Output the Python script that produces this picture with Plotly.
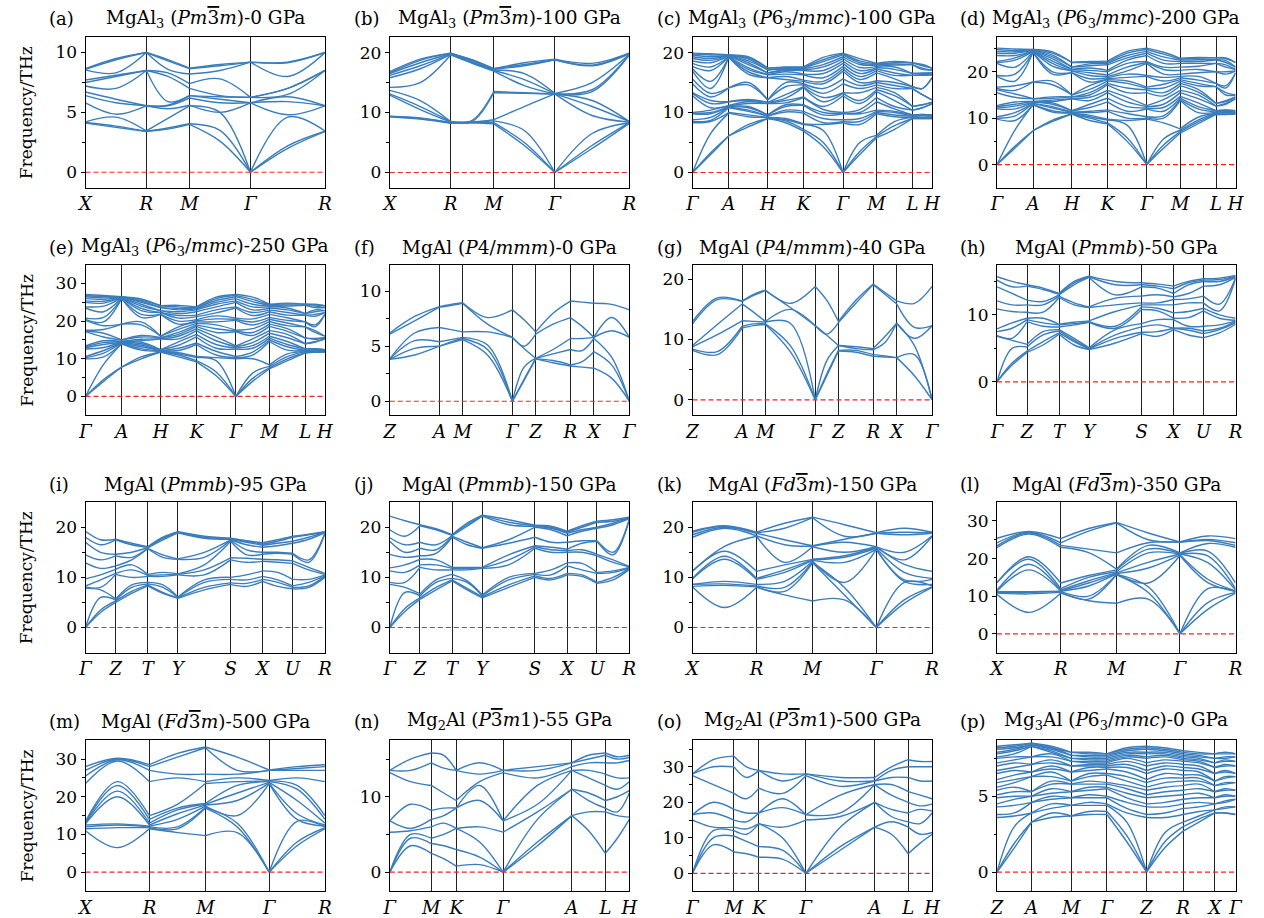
import plotly.graph_objects as go

W, H = 1264, 918
BLUE = '#3a7dbc'
FONT = 'DejaVu Serif'

# ---------------- k-paths (relative distances) ----------------
CUBIC_K = [0, 0.254, 0.434, 0.689, 1.0]
CUBIC_L = ['X', 'R', 'M', 'Γ', 'R']
HEX_K = [0, 0.151, 0.314, 0.463, 0.628, 0.768, 0.918, 1.0]
HEX_L = ['Γ', 'A', 'H', 'K', 'Γ', 'M', 'L', 'H']
TET_K = [0, 0.207, 0.304, 0.512, 0.609, 0.754, 0.852, 1.0]
TET_L = ['Z', 'A', 'M', 'Γ', 'Z', 'R', 'X', 'Γ']
ORT_K = [0, 0.126, 0.260, 0.386, 0.606, 0.740, 0.865, 1.0]
ORT_L = ['Γ', 'Z', 'T', 'Y', 'S', 'X', 'U', 'R']
FCC_K = [0, 0.267, 0.501, 0.767, 1.0]
FCC_L = ['X', 'R', 'M', 'Γ', 'R']
TRI_K = [0, 0.173, 0.277, 0.473, 0.760, 0.900, 1.0]
TRI_L = ['Γ', 'M', 'K', 'Γ', 'A', 'L', 'H']
P_K = [0, 0.145, 0.311, 0.461, 0.627, 0.780, 0.913, 1.0]
P_L = ['Z', 'A', 'M', 'Γ', 'Z', 'R', 'X', 'Γ']

# ---------------- frequencies (THz) at path nodes: point, mid, point, ... ----------------
A_R = [3.4, 3.42, 3.45, 5.55, 5.55, 5.55, 8.5, 8.5, 8.5, 10.0, 10.0, 10.0]
A_NODES = [
    [4.1, 4.15, 4.2, 5.8, 6.4, 6.7, 7.2, 7.5, 7.7, 8.55, 8.6, 8.65],
    [3.75, 3.85, 4.6, 4.85, 5.8, 6.1, 7.0, 8.0, 8.1, 8.3, 9.4, 9.5],
    A_R,
    [3.6, 3.7, 4.5, 5.3, 5.55, 5.6, 5.9, 8.0, 8.3, 8.6, 9.3, 9.4],
    [4.0, 4.05, 5.55, 5.6, 6.2, 6.4, 6.4, 7.0, 7.4, 8.2, 8.65, 8.7],
    [2.6, 3.5, 5.0, 5.0, 5.8, 6.1, 6.3, 6.4, 7.8, 8.5, 8.9, 9.0],
    [0, 0, 0, 5.8, 5.8, 5.8, 6.25, 6.25, 6.25, 9.2, 9.2, 9.2],
    [2.0, 2.2, 4.6, 4.8, 5.9, 6.3, 6.5, 7.0, 7.0, 8.0, 9.15, 9.2],
    A_R,
]

B_R = [8.2, 8.3, 8.3, 8.4, 8.5, 8.5, 19.6, 19.7, 19.7, 19.8, 19.9, 19.9]
B_NODES = [
    [9.3, 9.35, 9.4, 12.9, 13.1, 13.7, 14.2, 15.8, 16.2, 16.5, 16.6, 16.8],
    [8.9, 9.0, 9.1, 10.5, 11.0, 12.0, 15.0, 17.3, 17.8, 18.3, 18.7, 18.9],
    B_R,
    [8.3, 8.3, 8.4, 8.4, 8.5, 8.7, 18.2, 18.3, 18.4, 18.6, 18.7, 18.8],
    [8.1, 8.3, 8.6, 8.8, 13.3, 13.5, 16.9, 17.0, 17.1, 17.2, 17.3, 17.3],
    [4.5, 5.0, 7.0, 11.0, 13.2, 13.3, 14.5, 15.5, 16.5, 17.8, 18.0, 18.3],
    [0, 0, 0, 13.1, 13.1, 13.1, 13.1, 13.15, 13.2, 18.8, 18.8, 18.9],
    [4.0, 4.5, 6.5, 9.5, 11.0, 12.0, 13.5, 13.8, 15.0, 17.8, 17.9, 18.2],
    B_R,
]

C_G = [0, 0, 0, 8.3, 8.5, 8.8, 9.8, 9.9, 10.0, 12.8, 13.2, 13.3, 14.8, 15.6, 16.9, 17.3, 17.7, 18.2, 18.6, 19.0, 19.3, 19.6, 19.8, 19.9]
C_H = [9.0, 9.0, 9.2, 9.2, 9.4, 9.4, 9.6, 9.6, 11.5, 11.5, 11.7, 11.7, 12.1, 12.1, 15.8, 15.8, 16.3, 16.3, 16.6, 16.6, 17.1, 17.1, 17.4, 17.4]
C_NODES = [
    C_G,
    [3.0, 3.3, 6.5, 8.5, 8.7, 9.2, 9.8, 10.0, 10.4, 10.8, 11.5, 12.0, 12.6, 13.2, 14.0, 15.2, 17.0, 17.6, 18.3, 18.7, 19.0, 19.3, 19.6, 19.8],
    [6.1, 6.1, 9.9, 10.0, 10.8, 10.9, 11.0, 11.0, 11.1, 11.2, 11.8, 11.8, 14.1, 14.1, 19.2, 19.2, 19.3, 19.3, 19.4, 19.4, 19.5, 19.5, 19.6, 19.6],
    [7.6, 8.0, 9.3, 9.6, 10.2, 10.4, 10.8, 11.0, 11.5, 11.8, 12.0, 12.2, 14.6, 15.0, 16.4, 16.8, 17.2, 17.5, 18.0, 18.3, 18.6, 18.9, 19.1, 19.3],
    C_H,
    [8.3, 8.6, 8.8, 9.0, 10.1, 10.4, 11.0, 11.3, 11.6, 12.0, 12.4, 13.0, 14.3, 15.0, 15.5, 16.0, 16.4, 16.8, 17.0, 17.2, 17.3, 17.4, 17.5, 17.6],
    [6.9, 7.2, 8.0, 8.1, 9.9, 10.2, 11.2, 11.3, 12.5, 12.6, 14.2, 14.3, 14.6, 14.8, 15.2, 15.4, 16.3, 16.4, 17.0, 17.1, 17.3, 17.4, 17.5, 17.6],
    [4.3, 5.0, 7.0, 8.0, 8.3, 9.0, 9.6, 10.0, 10.5, 11.0, 11.8, 12.5, 13.2, 14.0, 14.8, 15.2, 15.8, 16.5, 17.0, 17.6, 18.0, 18.5, 18.8, 19.2],
    C_G,
    [3.0, 3.5, 5.0, 8.0, 8.5, 9.0, 9.8, 10.0, 10.5, 11.5, 12.0, 13.3, 14.0, 14.5, 15.0, 15.5, 16.0, 16.5, 17.0, 17.5, 18.0, 18.3, 18.6, 19.0],
    [5.8, 6.0, 6.2, 9.8, 10.0, 10.2, 10.4, 11.8, 12.5, 13.5, 13.8, 14.2, 14.6, 15.0, 15.3, 16.6, 17.0, 17.3, 17.5, 17.7, 17.9, 18.0, 18.1, 18.2],
    [7.2, 7.8, 8.5, 9.3, 9.6, 10.0, 10.2, 10.6, 11.0, 12.0, 12.8, 13.3, 14.0, 14.5, 15.0, 15.6, 16.2, 16.6, 17.2, 17.6, 17.9, 18.1, 18.3, 18.5],
    [9.0, 9.0, 9.2, 9.2, 9.4, 9.4, 9.6, 9.6, 10.4, 10.4, 11.0, 11.0, 14.0, 14.0, 14.3, 14.3, 16.2, 16.2, 16.5, 16.5, 18.0, 18.0, 18.3, 18.3],
    [9.0, 9.0, 9.2, 9.2, 9.5, 9.5, 9.7, 9.7, 10.8, 10.8, 11.3, 11.3, 13.0, 13.0, 14.0, 14.0, 16.2, 16.3, 16.5, 16.6, 17.2, 17.4, 17.8, 18.0],
    C_H,
]

D_G = [0, 0, 0, 9.8, 10.0, 10.3, 12.0, 12.2, 12.5, 12.7, 15.5, 16.1, 16.4, 16.7, 19.0, 19.2, 21.8, 22.0, 22.2, 23.5, 24.0, 24.4, 24.8, 25.1]
D_H = [10.9, 10.9, 11.1, 11.1, 11.3, 11.3, 11.6, 11.6, 14.2, 14.2, 14.6, 14.6, 15.0, 15.0, 19.8, 19.8, 20.2, 20.2, 20.5, 20.5, 21.0, 21.0, 22.0, 22.0]
D_NODES = [
    D_G,
    [3.6, 4.0, 7.5, 9.5, 10.5, 11.2, 12.0, 12.6, 13.0, 13.5, 14.5, 15.2, 16.0, 17.0, 18.0, 19.5, 21.0, 22.5, 23.0, 23.5, 24.0, 24.3, 24.6, 24.9],
    [7.3, 7.3, 12.9, 12.9, 13.2, 13.2, 13.4, 13.4, 13.6, 13.6, 14.2, 14.2, 17.8, 17.8, 24.2, 24.2, 24.4, 24.4, 24.5, 24.5, 24.6, 24.6, 24.8, 24.8],
    [9.3, 9.6, 11.3, 11.6, 12.2, 12.5, 13.0, 13.3, 13.6, 13.9, 14.3, 14.6, 17.2, 18.0, 19.5, 20.0, 21.2, 21.8, 22.3, 22.8, 23.2, 23.6, 24.0, 24.3],
    D_H,
    [9.5, 10.0, 10.3, 10.6, 11.2, 11.5, 12.3, 13.0, 13.8, 14.5, 15.0, 15.5, 16.2, 17.0, 17.8, 18.5, 19.2, 19.8, 20.3, 20.8, 21.3, 21.7, 22.0, 22.2],
    [8.8, 9.0, 9.6, 9.8, 11.5, 11.8, 13.5, 14.3, 15.5, 16.0, 17.2, 17.5, 18.0, 18.3, 18.5, 18.7, 19.0, 19.3, 20.0, 20.3, 21.5, 21.8, 22.0, 22.3],
    [5.0, 5.8, 8.5, 9.5, 10.0, 11.0, 11.5, 12.5, 13.5, 14.5, 15.5, 16.5, 17.5, 18.0, 18.8, 19.5, 20.2, 21.0, 21.8, 22.5, 23.0, 23.5, 24.0, 24.4],
    D_G,
    [3.5, 4.2, 5.5, 9.0, 10.0, 10.5, 11.5, 12.3, 13.0, 14.0, 14.8, 15.5, 16.5, 17.3, 18.0, 18.8, 19.5, 20.5, 21.0, 21.8, 22.5, 23.2, 23.8, 24.2],
    [6.8, 7.1, 7.4, 7.7, 13.8, 14.0, 14.3, 14.7, 15.5, 16.0, 17.0, 17.5, 18.0, 18.3, 18.7, 19.0, 19.5, 20.3, 21.0, 21.8, 22.2, 22.5, 22.7, 22.9],
    [8.8, 9.2, 9.6, 10.2, 11.2, 12.0, 12.5, 13.3, 14.2, 15.0, 15.6, 16.2, 17.0, 17.5, 18.2, 19.0, 19.8, 20.5, 21.2, 21.8, 22.2, 22.6, 22.9, 23.1],
    [10.8, 10.8, 11.0, 11.0, 11.3, 11.3, 11.6, 11.6, 12.6, 12.6, 13.2, 13.2, 16.8, 16.8, 17.5, 17.5, 20.0, 20.0, 21.8, 21.8, 22.6, 22.6, 23.0, 23.0],
    [10.8, 10.9, 11.1, 11.2, 11.4, 11.5, 11.7, 11.8, 13.0, 13.2, 13.6, 13.8, 15.0, 15.5, 16.5, 17.0, 19.5, 20.0, 21.0, 21.5, 22.0, 22.4, 22.8, 23.0],
    D_H,
]

E_G = [0, 0, 0, 10.0, 10.3, 10.6, 12.6, 12.9, 13.2, 13.4, 17.2, 17.4, 17.6, 20.2, 20.5, 20.8, 23.5, 23.8, 25.0, 25.4, 26.0, 26.5, 26.8, 27.1]
E_H = [11.8, 11.8, 12.0, 12.0, 12.2, 12.2, 12.4, 12.4, 15.3, 15.3, 15.6, 15.6, 16.0, 16.0, 21.8, 21.8, 22.3, 22.3, 22.8, 22.8, 23.6, 23.6, 24.1, 24.1]
E_NODES = [
    E_G,
    [4.0, 4.5, 8.5, 10.5, 11.5, 12.2, 13.0, 13.8, 14.3, 14.8, 15.8, 16.8, 17.8, 18.8, 19.8, 21.0, 22.5, 24.0, 24.8, 25.3, 25.8, 26.2, 26.5, 26.8],
    [7.8, 7.8, 14.0, 14.0, 14.2, 14.2, 14.4, 14.4, 14.6, 14.6, 15.0, 15.0, 19.2, 19.2, 26.0, 26.0, 26.2, 26.2, 26.3, 26.3, 26.4, 26.4, 26.5, 26.5],
    [10.0, 10.5, 12.3, 12.7, 13.2, 13.6, 14.0, 14.4, 14.8, 15.2, 15.8, 16.2, 19.0, 19.8, 21.0, 21.8, 22.8, 23.4, 24.0, 24.5, 25.0, 25.3, 25.6, 25.9],
    E_H,
    [10.5, 11.0, 11.3, 11.6, 12.2, 12.8, 13.6, 14.5, 15.3, 16.0, 16.5, 17.0, 17.8, 18.5, 19.2, 20.0, 20.8, 21.5, 22.0, 22.5, 23.0, 23.4, 23.8, 24.2],
    [9.2, 9.5, 10.3, 10.6, 13.8, 14.2, 15.8, 16.5, 17.5, 18.0, 18.6, 19.0, 19.4, 19.8, 20.1, 20.4, 21.2, 21.6, 22.5, 23.0, 23.3, 23.5, 23.6, 23.8],
    [5.5, 6.5, 9.5, 10.3, 11.0, 12.0, 12.8, 13.8, 14.8, 15.8, 17.0, 18.0, 19.0, 19.8, 20.6, 21.4, 22.2, 23.0, 23.8, 24.5, 25.0, 25.5, 26.0, 26.4],
    E_G,
    [4.0, 4.8, 6.2, 10.0, 11.0, 11.8, 12.8, 13.5, 14.3, 15.3, 16.2, 17.0, 18.0, 19.0, 19.8, 20.6, 21.5, 22.3, 23.0, 23.8, 24.5, 25.2, 25.8, 26.4],
    [7.3, 7.6, 8.0, 8.4, 14.6, 15.0, 15.5, 16.0, 16.8, 17.5, 18.6, 19.2, 19.9, 20.5, 21.0, 21.8, 22.5, 23.0, 23.5, 23.8, 24.0, 24.2, 24.3, 24.5],
    [9.5, 10.0, 10.6, 11.3, 12.3, 13.2, 13.8, 14.6, 15.6, 16.5, 17.3, 18.0, 18.8, 19.5, 20.2, 20.9, 21.6, 22.3, 23.0, 23.5, 24.0, 24.3, 24.6, 24.8],
    [11.6, 11.6, 11.9, 11.9, 12.2, 12.2, 12.6, 12.6, 14.0, 14.0, 15.5, 15.5, 18.5, 18.5, 19.8, 19.8, 21.6, 21.6, 22.0, 22.0, 24.2, 24.2, 24.5, 24.5],
    [11.7, 11.8, 12.0, 12.1, 12.3, 12.4, 12.6, 12.7, 14.4, 14.6, 15.2, 15.4, 17.0, 17.5, 18.5, 19.0, 21.3, 21.8, 22.5, 23.0, 23.6, 24.0, 24.3, 24.5],
    E_H,
]

F_G = [0, 0, 0, 5.8, 5.8, 8.3]
F_NODES = [
    [3.8, 3.8, 3.85, 3.85, 6.1, 6.2],
    [4.2, 4.8, 5.5, 6.2, 7.3, 7.7],
    [5.0, 5.0, 5.4, 6.7, 8.55, 8.6],
    [5.3, 5.4, 5.6, 6.5, 8.7, 8.8],
    [5.6, 5.7, 5.8, 6.3, 8.9, 8.95],
    [4.2, 4.7, 5.1, 6.3, 7.0, 7.6],
    F_G,
    [1.9, 2.0, 3.1, 4.8, 5.0, 7.4],
    [3.85, 3.85, 3.9, 3.9, 6.1, 6.3],
    [3.5, 3.7, 4.3, 4.7, 7.0, 8.0],
    [3.2, 3.3, 4.7, 5.7, 7.6, 9.1],
    [3.1, 3.6, 4.6, 5.7, 6.8, 9.0],
    [3.0, 4.5, 5.7, 5.8, 5.8, 8.9],
    [2.1, 3.3, 4.0, 6.4, 7.6, 8.8],
    F_G,
]

G_G = [0, 0, 0, 12.3, 12.3, 18.8]
G_NODES = [
    [8.2, 8.4, 8.8, 9.0, 12.6, 13.0],
    [7.5, 8.0, 10.8, 12.5, 16.6, 16.9],
    [11.9, 12.2, 13.1, 15.9, 16.3, 16.4],
    [12.3, 12.6, 13.0, 14.5, 17.3, 17.5],
    [12.5, 12.6, 12.9, 13.0, 18.1, 18.2],
    [8.0, 9.0, 12.7, 15.0, 15.3, 16.0],
    G_G,
    [4.0, 4.3, 6.5, 10.7, 10.9, 16.5],
    [8.1, 8.2, 9.0, 9.0, 12.8, 13.0],
    [7.9, 8.2, 8.5, 8.8, 16.0, 16.5],
    [7.2, 7.5, 8.3, 8.5, 19.1, 19.2],
    [7.1, 7.3, 9.5, 10.5, 17.5, 17.8],
    [7.0, 7.0, 12.7, 12.7, 15.9, 16.4],
    [4.0, 7.5, 9.0, 10.2, 12.0, 16.0],
    G_G,
]

H_NODES = [
    [0, 0, 0, 6.8, 6.9, 7.5, 7.9, 10.9, 12.1, 14.2, 15.2, 15.7],
    [2.5, 2.8, 5.0, 6.2, 6.5, 8.0, 8.8, 10.5, 11.5, 13.2, 14.2, 15.0],
    [4.4, 4.6, 5.2, 5.6, 9.0, 9.3, 9.5, 10.4, 11.5, 12.2, 14.3, 14.5],
    [5.5, 6.0, 7.0, 7.5, 8.3, 8.8, 9.5, 10.4, 11.5, 12.0, 13.8, 14.0],
    [7.1, 7.3, 7.6, 7.8, 8.2, 8.5, 8.6, 12.6, 12.8, 13.0, 13.1, 13.2],
    [5.5, 6.0, 6.2, 6.5, 8.5, 8.7, 8.9, 11.5, 11.8, 14.5, 14.8, 15.0],
    [4.8, 4.9, 5.0, 5.1, 8.9, 9.0, 9.1, 11.1, 11.2, 15.6, 15.7, 15.8],
    [5.8, 6.5, 7.0, 7.8, 8.0, 8.3, 10.5, 11.5, 12.5, 13.0, 14.5, 15.0],
    [7.2, 7.4, 8.2, 8.7, 10.8, 11.2, 11.5, 11.8, 12.8, 14.2, 14.5, 14.8],
    [6.8, 7.5, 8.5, 9.3, 10.6, 11.0, 11.5, 11.8, 13.0, 14.0, 14.3, 14.6],
    [7.8, 8.0, 8.0, 9.3, 9.5, 10.3, 11.5, 12.3, 12.7, 13.2, 13.9, 14.3],
    [7.0, 7.7, 8.0, 8.3, 9.6, 10.5, 11.8, 12.4, 13.2, 14.5, 14.8, 15.0],
    [6.6, 7.2, 7.6, 8.3, 10.6, 11.0, 11.8, 12.8, 14.3, 15.0, 15.2, 15.4],
    [7.3, 7.8, 8.0, 8.5, 9.5, 10.0, 10.6, 11.6, 14.5, 15.0, 15.3, 15.5],
    [8.6, 8.8, 9.0, 9.1, 9.2, 9.5, 15.4, 15.5, 15.6, 15.7, 15.8, 15.9],
]

I_NODES = [
    [0, 0, 0, 7.8, 8.1, 8.3, 9.7, 12.9, 14.5, 17.0, 18.0, 19.2],
    [3.0, 3.5, 6.0, 7.5, 8.0, 9.5, 10.5, 11.8, 13.5, 15.0, 16.5, 17.5],
    [5.0, 5.3, 5.5, 5.7, 10.6, 10.8, 11.6, 12.3, 14.3, 14.6, 17.5, 17.6],
    [6.8, 7.2, 8.0, 8.5, 10.0, 11.5, 12.5, 13.5, 14.0, 15.0, 16.5, 16.8],
    [8.3, 8.5, 8.7, 9.0, 10.2, 10.4, 10.6, 15.7, 15.8, 15.9, 16.0, 16.1],
    [6.8, 7.0, 8.0, 8.5, 10.2, 10.5, 11.0, 14.0, 14.5, 17.5, 17.8, 18.0],
    [5.8, 5.9, 6.0, 6.1, 10.5, 10.6, 10.7, 13.6, 13.7, 18.9, 19.0, 19.1],
    [7.5, 8.0, 9.0, 9.5, 10.5, 11.5, 12.5, 14.0, 15.0, 17.8, 18.0, 18.2],
    [8.6, 8.9, 9.6, 10.0, 13.5, 13.9, 17.2, 17.4, 17.5, 17.6, 17.7, 17.8],
    [8.2, 8.8, 9.5, 10.5, 13.0, 13.8, 14.5, 15.5, 16.5, 17.0, 17.2, 17.3],
    [9.2, 9.6, 10.2, 11.3, 13.2, 13.6, 14.6, 15.0, 16.0, 16.4, 16.6, 16.9],
    [8.2, 9.0, 9.5, 11.0, 13.0, 13.5, 14.8, 15.0, 16.3, 16.8, 17.2, 17.5],
    [7.7, 8.0, 8.3, 9.6, 12.8, 13.3, 14.6, 14.8, 16.8, 17.2, 18.0, 18.2],
    [8.0, 8.3, 9.0, 9.6, 11.5, 12.0, 13.0, 13.5, 17.6, 18.0, 18.5, 18.6],
    [10.0, 10.2, 10.3, 10.5, 10.6, 10.8, 18.7, 18.8, 18.9, 19.0, 19.0, 19.1],
]

J_NODES = [
    [0, 0, 0, 8.6, 9.0, 11.3, 11.9, 14.6, 17.2, 17.9, 19.5, 22.2],
    [3.2, 3.8, 7.0, 8.0, 9.0, 11.0, 12.5, 14.0, 15.0, 16.5, 18.2, 21.3],
    [5.6, 5.9, 6.3, 6.7, 12.0, 12.5, 13.6, 14.3, 15.8, 17.0, 20.3, 20.5],
    [7.5, 8.0, 9.0, 9.5, 11.5, 12.5, 13.5, 14.8, 15.5, 16.5, 19.5, 19.7],
    [9.3, 9.5, 9.8, 10.6, 11.5, 11.8, 12.0, 18.0, 18.2, 18.3, 18.4, 18.5],
    [7.5, 7.8, 9.0, 9.3, 11.5, 11.8, 12.0, 16.5, 17.0, 20.2, 20.5, 20.8],
    [5.9, 6.1, 6.3, 6.5, 11.8, 11.9, 12.0, 15.8, 15.9, 22.2, 22.3, 22.4],
    [8.0, 8.5, 9.5, 10.0, 12.5, 13.5, 14.5, 16.8, 17.5, 20.5, 21.0, 21.5],
    [10.0, 10.3, 10.6, 10.8, 15.8, 16.1, 16.3, 18.0, 20.0, 20.2, 20.3, 20.4],
    [9.5, 9.8, 10.5, 11.5, 15.0, 15.5, 16.0, 17.0, 19.5, 19.8, 20.0, 20.2],
    [10.5, 10.8, 12.3, 12.9, 15.0, 15.3, 15.6, 17.0, 18.3, 18.8, 19.0, 19.2],
    [10.2, 10.5, 11.5, 12.8, 15.0, 15.5, 16.8, 17.3, 19.2, 19.5, 20.0, 20.3],
    [8.8, 9.0, 10.8, 11.0, 14.3, 14.6, 17.2, 17.3, 19.8, 20.0, 21.0, 21.2],
    [9.5, 10.0, 11.0, 11.3, 13.0, 13.5, 14.5, 15.0, 20.5, 20.8, 21.2, 21.5],
    [11.6, 11.8, 11.9, 12.0, 12.1, 12.2, 21.5, 21.6, 21.7, 21.8, 21.9, 22.0],
]

K_R = [8.0, 8.1, 8.3, 8.6, 9.6, 9.8, 11.2, 18.2, 18.3, 18.8, 18.9, 19.0]
K_NODES = [
    [8.1, 8.2, 8.6, 8.6, 9.7, 9.8, 11.2, 11.3, 18.0, 18.5, 19.0, 19.2],
    [4.0, 8.4, 8.7, 9.2, 13.6, 14.2, 15.2, 16.2, 19.8, 20.0, 20.2, 20.3],
    K_R,
    [6.5, 7.2, 8.0, 9.2, 11.0, 11.5, 12.5, 13.0, 16.5, 17.5, 19.8, 20.8],
    [5.3, 12.9, 13.0, 13.2, 13.4, 13.5, 13.6, 16.1, 16.2, 16.3, 21.9, 22.0],
    [5.5, 6.5, 8.0, 9.0, 13.0, 14.0, 14.3, 15.0, 17.0, 17.6, 18.2, 20.5],
    [0, 0, 0, 15.6, 15.6, 15.8, 16.0, 16.1, 16.1, 18.8, 18.8, 18.9],
    [4.8, 5.5, 9.0, 9.2, 9.5, 11.0, 12.6, 13.5, 15.0, 18.5, 19.0, 19.8],
    K_R,
]

L_R = [10.8, 11.0, 11.2, 11.3, 11.4, 11.6, 12.0, 13.5, 23.0, 23.5, 24.2, 25.3]
L_NODES = [
    [10.5, 10.8, 11.0, 11.2, 11.4, 11.6, 13.6, 13.6, 22.9, 23.4, 24.2, 25.4],
    [5.7, 10.6, 11.0, 11.2, 17.0, 18.5, 19.8, 20.5, 26.5, 26.8, 27.0, 27.2],
    L_R,
    [8.8, 9.2, 10.0, 12.7, 13.5, 14.1, 15.0, 15.5, 21.6, 22.5, 27.3, 28.0],
    [8.1, 15.7, 15.8, 15.9, 16.0, 16.2, 16.5, 17.0, 17.2, 21.5, 29.5, 29.6],
    [9.2, 11.0, 12.5, 13.5, 17.5, 19.0, 21.5, 22.5, 23.5, 24.2, 25.0, 26.8],
    [0, 0, 0, 20.8, 21.0, 21.2, 21.2, 21.4, 21.5, 24.3, 24.4, 24.4],
    [6.5, 8.3, 12.0, 13.6, 14.5, 18.9, 20.7, 22.0, 24.0, 24.8, 25.1, 26.0],
    L_R,
]

M_R = [11.5, 11.8, 12.0, 12.2, 12.5, 13.0, 14.0, 15.0, 24.0, 27.0, 28.0, 28.5]
M_NODES = [
    [11.0, 11.5, 12.0, 12.5, 12.8, 13.0, 13.2, 13.5, 23.5, 25.5, 27.0, 28.0],
    [6.5, 11.8, 12.5, 12.8, 20.0, 21.5, 23.0, 24.0, 29.5, 29.8, 30.0, 30.2],
    M_R,
    [10.5, 11.5, 12.0, 14.0, 15.5, 16.5, 17.0, 18.0, 25.0, 26.0, 30.5, 31.5],
    [9.7, 17.0, 17.2, 17.5, 17.8, 18.0, 18.2, 23.5, 24.0, 26.0, 33.0, 33.2],
    [10.5, 12.0, 13.0, 15.0, 19.0, 21.0, 23.0, 24.0, 25.0, 26.0, 27.0, 30.5],
    [0, 0, 0, 23.5, 23.6, 23.8, 24.0, 24.2, 24.3, 27.0, 27.0, 27.1],
    [7.0, 8.0, 13.5, 14.0, 15.5, 19.0, 22.0, 23.0, 25.0, 27.0, 27.5, 28.0],
    M_R,
]

N_G = [0, 0, 0, 5.3, 6.8, 6.8, 13.2, 13.5, 13.5]
N_NODES = [
    N_G,
    [3.5, 4.5, 5.0, 5.5, 5.8, 9.0, 12.0, 13.5, 15.0],
    [2.5, 3.8, 4.5, 6.0, 7.0, 8.2, 11.5, 14.5, 15.8],
    [1.8, 3.5, 5.0, 6.5, 7.5, 8.5, 10.5, 13.8, 15.5],
    [0.8, 3.0, 5.8, 5.8, 8.5, 8.5, 9.5, 13.5, 13.5],
    [1.0, 2.0, 4.0, 6.0, 9.5, 11.5, 12.0, 13.0, 14.5],
    N_G,
    [3.5, 4.0, 7.0, 8.0, 9.0, 11.5, 12.5, 13.5, 14.0],
    [7.5, 7.5, 11.0, 11.0, 13.5, 13.5, 14.0, 14.5, 14.5],
    [5.5, 8.0, 9.5, 10.5, 12.5, 13.5, 14.5, 15.0, 15.5],
    [2.5, 8.0, 8.5, 9.5, 11.5, 13.0, 14.5, 15.5, 15.8],
    [4.5, 7.5, 8.0, 10.0, 11.0, 12.5, 14.5, 15.0, 15.3],
    [7.0, 7.3, 10.5, 10.8, 12.0, 12.5, 14.8, 15.2, 15.5],
]

O_G = [0, 0, 0, 15.0, 16.5, 16.5, 27.5, 28.0, 28.0]
O_NODES = [
    O_G,
    [8.0, 10.0, 12.0, 13.0, 17.0, 20.0, 25.0, 30.0, 32.0],
    [6.0, 10.5, 12.0, 13.0, 15.0, 18.0, 22.5, 30.0, 33.0],
    [5.5, 9.0, 11.0, 12.5, 14.5, 17.0, 21.0, 27.0, 30.0],
    [4.5, 7.5, 14.0, 14.0, 17.0, 17.0, 24.0, 29.0, 29.0],
    [4.0, 6.5, 10.0, 13.0, 18.5, 21.0, 22.5, 26.0, 28.0],
    O_G,
    [6.5, 7.5, 13.0, 16.0, 17.0, 22.0, 24.5, 26.0, 27.0],
    [13.0, 13.0, 20.0, 20.0, 25.0, 25.0, 26.0, 26.0, 27.0],
    [11.0, 14.5, 16.0, 18.0, 22.0, 25.0, 27.0, 29.0, 30.0],
    [5.5, 13.0, 14.5, 17.0, 20.0, 23.0, 27.0, 30.0, 32.0],
    [8.5, 11.0, 14.0, 18.0, 19.0, 22.0, 26.0, 30.0, 31.5],
    [11.0, 11.5, 17.0, 17.5, 19.5, 21.0, 26.0, 30.0, 31.5],
]

P_Z = [0, 0, 0, 3.6, 3.8, 4.3, 4.5, 4.9, 5.1, 5.4, 5.6, 5.9, 6.1, 6.5, 6.7, 7.0, 7.2, 7.5, 7.6, 7.8, 7.9, 8.1, 8.2, 8.3]
P_NODES = [
    P_Z,
    [1.6, 1.9, 3.0, 3.7, 3.9, 4.4, 4.8, 5.0, 5.3, 5.6, 5.9, 6.1, 6.4, 6.7, 6.9, 7.2, 7.4, 7.6, 7.8, 8.0, 8.1, 8.2, 8.3, 8.4],
    [3.3, 3.3, 3.9, 3.9, 4.6, 4.6, 5.0, 5.0, 5.3, 5.3, 6.3, 6.3, 6.6, 6.6, 7.1, 7.1, 7.6, 7.6, 8.3, 8.3, 8.4, 8.4, 8.5, 8.5],
    [3.6, 3.9, 4.2, 4.5, 4.8, 5.0, 5.2, 5.5, 5.8, 6.0, 6.3, 6.6, 6.8, 7.0, 7.2, 7.4, 7.6, 7.8, 7.9, 8.0, 8.1, 8.2, 8.2, 8.3],
    [3.7, 3.7, 4.4, 4.4, 4.9, 4.9, 5.3, 5.3, 5.8, 5.8, 6.0, 6.0, 6.6, 6.6, 7.0, 7.0, 7.3, 7.3, 7.5, 7.5, 7.7, 7.7, 7.9, 7.9],
    [3.8, 4.0, 4.4, 4.6, 4.9, 5.1, 5.4, 5.6, 5.8, 6.0, 6.3, 6.5, 6.7, 6.9, 7.0, 7.1, 7.2, 7.3, 7.4, 7.5, 7.6, 7.7, 7.8, 7.9],
    [3.8, 4.0, 4.4, 4.5, 4.9, 5.0, 5.5, 5.6, 5.8, 5.9, 6.4, 6.5, 6.8, 6.9, 7.0, 7.1, 7.2, 7.3, 7.4, 7.5, 7.6, 7.7, 7.8, 7.8],
    [2.0, 2.4, 3.3, 3.9, 4.2, 4.6, 4.9, 5.2, 5.5, 5.7, 6.0, 6.3, 6.6, 6.9, 7.1, 7.3, 7.5, 7.6, 7.7, 7.8, 7.9, 8.0, 8.1, 8.2],
    P_Z,
    [1.6, 2.0, 2.6, 3.6, 3.9, 4.3, 4.6, 5.0, 5.3, 5.6, 5.9, 6.2, 6.5, 6.8, 7.0, 7.2, 7.4, 7.6, 7.7, 7.8, 7.9, 8.0, 8.1, 8.2],
    [2.7, 3.0, 3.3, 3.8, 4.2, 4.5, 4.8, 5.1, 5.4, 5.7, 6.0, 6.2, 6.4, 6.7, 6.9, 7.1, 7.3, 7.4, 7.5, 7.6, 7.7, 7.8, 7.9, 8.0],
    [3.3, 3.5, 3.7, 4.0, 4.3, 4.6, 4.9, 5.2, 5.5, 5.8, 6.0, 6.2, 6.4, 6.6, 6.8, 7.0, 7.2, 7.3, 7.4, 7.5, 7.6, 7.7, 7.8, 7.9],
    [3.9, 3.9, 4.1, 4.1, 4.5, 4.5, 4.9, 4.9, 5.3, 5.3, 5.7, 5.7, 6.0, 6.0, 6.5, 6.5, 6.9, 6.9, 7.2, 7.2, 7.5, 7.5, 7.8, 7.8],
    [3.9, 3.9, 4.2, 4.3, 4.6, 4.7, 5.0, 5.1, 5.4, 5.5, 5.8, 5.9, 6.2, 6.3, 6.6, 6.7, 7.0, 7.1, 7.3, 7.4, 7.5, 7.6, 7.8, 7.9],
    [3.8, 3.8, 4.3, 4.3, 4.8, 4.8, 5.0, 5.0, 5.4, 5.4, 5.9, 5.9, 6.3, 6.3, 6.5, 6.5, 7.0, 7.0, 7.3, 7.3, 7.6, 7.6, 7.8, 7.8],
]

BAR3 = '<span style="text-decoration:overline">3</span>'
MGAL3_PM = 'MgAl<sub>3</sub> (<i>Pm</i>' + BAR3 + '<i>m</i>)'
MGAL3_P6 = 'MgAl<sub>3</sub> (<i>P</i>6<sub>3</sub>/<i>mmc</i>)'
MGAL_P4 = 'MgAl (<i>P</i>4/<i>mmm</i>)'
MGAL_PMMB = 'MgAl (<i>Pmmb</i>)'
MGAL_FD = 'MgAl (<i>Fd</i>' + BAR3 + '<i>m</i>)'
MG2AL = 'Mg<sub>2</sub>Al (<i>P</i>' + BAR3 + '<i>m</i>1)'
MG3AL = 'Mg<sub>3</sub>Al (<i>P</i>6<sub>3</sub>/<i>mmc</i>)'

PANELS = [
    ('(a)', MGAL3_PM + '-0 GPa', CUBIC_K, CUBIC_L, A_NODES, [-1.3, 11.3], [0, 5, 10], [2.5, 7.5]),
    ('(b)', MGAL3_PM + '-100 GPa', CUBIC_K, CUBIC_L, B_NODES, [-2.55, 22.6], [0, 10, 20], [5, 15]),
    ('(c)', MGAL3_P6 + '-100 GPa', HEX_K, HEX_L, C_NODES, [-2.55, 22.6], [0, 10, 20], [5, 15]),
    ('(d)', MGAL3_P6 + '-200 GPa', HEX_K, HEX_L, D_NODES, [-5, 27.5], [0, 10, 20], [5, 15, 25]),
    ('(e)', MGAL3_P6 + '-250 GPa', HEX_K, HEX_L, E_NODES, [-5, 35], [0, 10, 20, 30], [5, 15, 25]),
    ('(f)', MGAL_P4 + '-0 GPa', TET_K, TET_L, F_NODES, [-1.27, 12.4], [0, 5, 10], [2.5, 7.5]),
    ('(g)', MGAL_P4 + '-40 GPa', TET_K, TET_L, G_NODES, [-2.55, 22.4], [0, 10, 20], [5, 15]),
    ('(h)', MGAL_PMMB + '-50 GPa', ORT_K, ORT_L, H_NODES, [-5, 17.5], [0, 10], [5, 15]),
    ('(i)', MGAL_PMMB + '-95 GPa', ORT_K, ORT_L, I_NODES, [-5, 25], [0, 10, 20], [5, 15]),
    ('(j)', MGAL_PMMB + '-150 GPa', ORT_K, ORT_L, J_NODES, [-5, 25], [0, 10, 20], [5, 15]),
    ('(k)', MGAL_FD + '-150 GPa', FCC_K, FCC_L, K_NODES, [-5, 25], [0, 10, 20], [5, 15]),
    ('(l)', MGAL_FD + '-350 GPa', FCC_K, FCC_L, L_NODES, [-5, 35], [0, 10, 20, 30], [5, 15, 25]),
    ('(m)', MGAL_FD + '-500 GPa', FCC_K, FCC_L, M_NODES, [-5, 35], [0, 10, 20, 30], [5, 15, 25]),
    ('(n)', MG2AL + '-55 GPa', TRI_K, TRI_L, N_NODES, [-2.5, 17.5], [0, 10], [5, 15]),
    ('(o)', MG2AL + '-500 GPa', TRI_K, TRI_L, O_NODES, [-5, 37.5], [0, 10, 20, 30], [5, 15, 25, 35]),
    ('(p)', MG3AL + '-0 GPa', P_K, P_L, P_NODES, [-1.25, 8.7], [0, 5], [2.5, 7.5]),
]

# ---------------- layout geometry (pixels) ----------------
COLS = [(78.5, 321), (386.7, 629.3), (693.3, 936), (1001.7, 1243.3)]
ROWS = [(37, 188), (265, 415.7), (502.7, 653.3), (741, 892)]
TITLE_Y = [19, 247.7, 485, 722]
LABEL_X = [41, 349, 656.7, 962.7]

fig = go.Figure()
layout = dict(width=W, height=H, margin=dict(l=0, r=0, t=0, b=0),
              paper_bgcolor='white', plot_bgcolor='white', showlegend=False,
              font=dict(family=FONT, color='black'))
annotations = []

for i, (lab, title, kp, kl, nodes, yr, yt, ym) in enumerate(PANELS):
    n = i + 1
    r, c = divmod(i, 4)
    xa = 'x' if n == 1 else f'x{n}'
    ya = 'y' if n == 1 else f'y{n}'
    xs, ys = [], []
    nb = min(len(v) for v in nodes)
    nseg = min(len(kp) - 1, (len(nodes) - 1) // 2)
    for b in range(nb):
        for s in range(nseg):
            x0, x1 = kp[s], kp[s + 1]
            xs += [x0, (x0 + x1) / 2, x1, None]
            ys += [nodes[2 * s][b], nodes[2 * s + 1][b], nodes[2 * s + 2][b], None]
    fig.add_trace(go.Scatter(x=xs, y=ys, mode='lines', xaxis=xa, yaxis=ya,
                             line=dict(color=BLUE, width=1.4, shape='spline', smoothing=1.0),
                             hoverinfo='skip'))
    fig.add_trace(go.Scatter(x=[kp[0], kp[-1]], y=[0, 0], mode='lines', xaxis=xa, yaxis=ya,
                             line=dict(color='#ff2020', width=1.2, dash='5px,3px'), hoverinfo='skip'))
    l, rr = COLS[c]
    t, bt = ROWS[r]
    axkey = 'xaxis' if n == 1 else f'xaxis{n}'
    aykey = 'yaxis' if n == 1 else f'yaxis{n}'
    layout[axkey] = dict(domain=[l / W, rr / W], range=[kp[0], kp[-1]], anchor=ya,
                         tickvals=kp, ticktext=[f'<i>{s}</i>' for s in kl],
                         showgrid=True, gridcolor='#222', gridwidth=1, zeroline=False,
                         showline=True, mirror=True, linecolor='black', linewidth=1,
                         ticks='', tickfont=dict(family=FONT, size=18, color='black'))
    layout[aykey] = dict(domain=[1 - bt / H, 1 - t / H], range=yr, anchor=xa,
                         tickvals=yt, showgrid=False, zeroline=False,
                         showline=True, mirror=True, linecolor='black', linewidth=1,
                         ticks='outside', ticklen=4, tickcolor='black',
                         minor=dict(tickvals=ym, ticks='outside', ticklen=2.5, tickcolor='black'),
                         tickfont=dict(family=FONT, size=17, color='black'))
    annotations.append(dict(text=lab, x=LABEL_X[c] / W, y=1 - TITLE_Y[r] / H, xref='paper', yref='paper',
                            xanchor='left', yanchor='middle', showarrow=False, borderpad=0,
                            font=dict(family=FONT, size=18, color='black')))
    annotations.append(dict(text=title, x=(l + rr) / 2 / W, y=1 - TITLE_Y[r] / H, xref='paper', yref='paper',
                            xanchor='center', yanchor='middle', showarrow=False,
                            font=dict(family=FONT, size=18.5, color='black')))
    if c == 0:
        annotations.append(dict(text='Frequency/THz', x=19 / W, y=1 - (t + bt) / 2 / H,
                                xref='paper', yref='paper', xanchor='center', yanchor='middle',
                                textangle=-90, showarrow=False,
                                font=dict(family=FONT, size=17, color='black')))

layout['annotations'] = annotations
fig.update_layout(**layout)
fig.write_html('out.html', config={'displayModeBar': False},
               post_script="document.body.style.margin='0px';")
